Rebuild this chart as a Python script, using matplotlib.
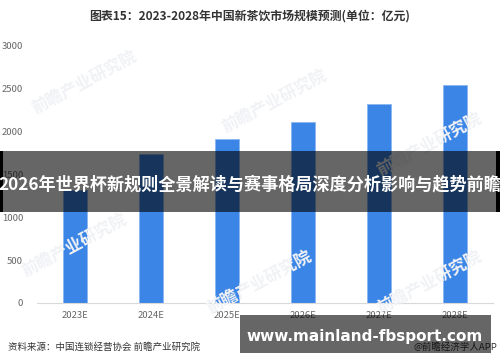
import matplotlib.pyplot as plt
from matplotlib.patches import Rectangle

plt.rcParams['font.family'] = ['Noto Sans CJK SC', 'DejaVu Sans']

# --- chart data ---
years = ['2023E', '2024E', '2025E', '2026E', '2027E', '2028E']
market_size = [1320, 1740, 1915, 2115, 2320, 2550]
y_ticks = [0, 500, 1000, 1500, 2000, 2500, 3000]

title = '图表15：2023-2028年中国新茶饮市场规模预测(单位：亿元)'
source = '资料来源：中国连锁经营协会 前瞻产业研究院'
credit = '@前瞻经济学人APP'
banner = '2026年世界杯新规则全景解读与赛事格局深度分析影响与趋势前瞻'
site = 'www.mainland-fbsport.com'
watermark = '前瞻产业研究院'

fig = plt.figure(figsize=(5.0, 3.62), dpi=100)
ax = fig.add_axes([0.074, 0.163, 0.912, 0.710])

# faint watermarks behind the bars
for wx, wy in [(0.17, 0.77), (0.55, 0.72), (0.86, 0.60), (0.15, 0.32), (0.52, 0.22), (0.86, 0.22)]:
    fig.text(wx, wy, watermark, rotation=28, fontsize=12, color='#f1f2f5',
             ha='center', va='center', fontweight='bold', zorder=0)

ax.bar(range(len(years)), market_size, width=0.31, color='#3a85e6',
       edgecolor='#8ab6f0', linewidth=0.6, zorder=2)

ax.set_xlim(-0.5, len(years) - 0.5)
ax.set_ylim(0, 3000)
ax.set_yticks(y_ticks)
ax.set_xticks(range(len(years)))
ax.set_xticklabels(years)
ax.tick_params(axis='both', length=0, labelsize=6.8, labelcolor='#666666')
ax.tick_params(axis='y', pad=10)
ax.tick_params(axis='x', pad=6)
for side in ['top', 'right', 'left']:
    ax.spines[side].set_visible(False)
ax.spines['bottom'].set_color('#d9d9d9')
ax.spines['bottom'].set_linewidth(0.8)
ax.patch.set_alpha(0)

fig.text(0.5, 0.957, title, ha='center', va='center', fontsize=8.6,
         fontweight='bold', color='#333333')
fig.text(0.016, 0.041, source, ha='left', va='center', fontsize=6.8, color='#333333')
fig.text(0.995, 0.041, credit, ha='right', va='center', fontsize=6.8, color='#333333')

# overlay banner across the middle
fig.patches.append(Rectangle((0, 0.415), 1.0, 0.168, transform=fig.transFigure,
                             facecolor='black', alpha=0.6, zorder=5))
fig.patches.append(Rectangle((0, 0.415), 0.005, 0.168, transform=fig.transFigure,
                             facecolor='black', zorder=5))
fig.patches.append(Rectangle((0.992, 0.415), 0.008, 0.168, transform=fig.transFigure,
                             facecolor='black', zorder=5))
fig.text(0.5, 0.49, banner, ha='center', va='center', fontsize=12.3,
         fontweight='bold', color='white', zorder=6)

# site watermark box at bottom right
fig.patches.append(Rectangle((0.48, 0.025), 0.502, 0.105, transform=fig.transFigure,
                             facecolor='black', alpha=0.6, zorder=5))
fig.text(0.73, 0.07, site, ha='center', va='center', fontsize=11,
         fontweight='bold', color='white', family=['DejaVu Sans'], zorder=6)

fig.savefig('out.png', dpi=100)
